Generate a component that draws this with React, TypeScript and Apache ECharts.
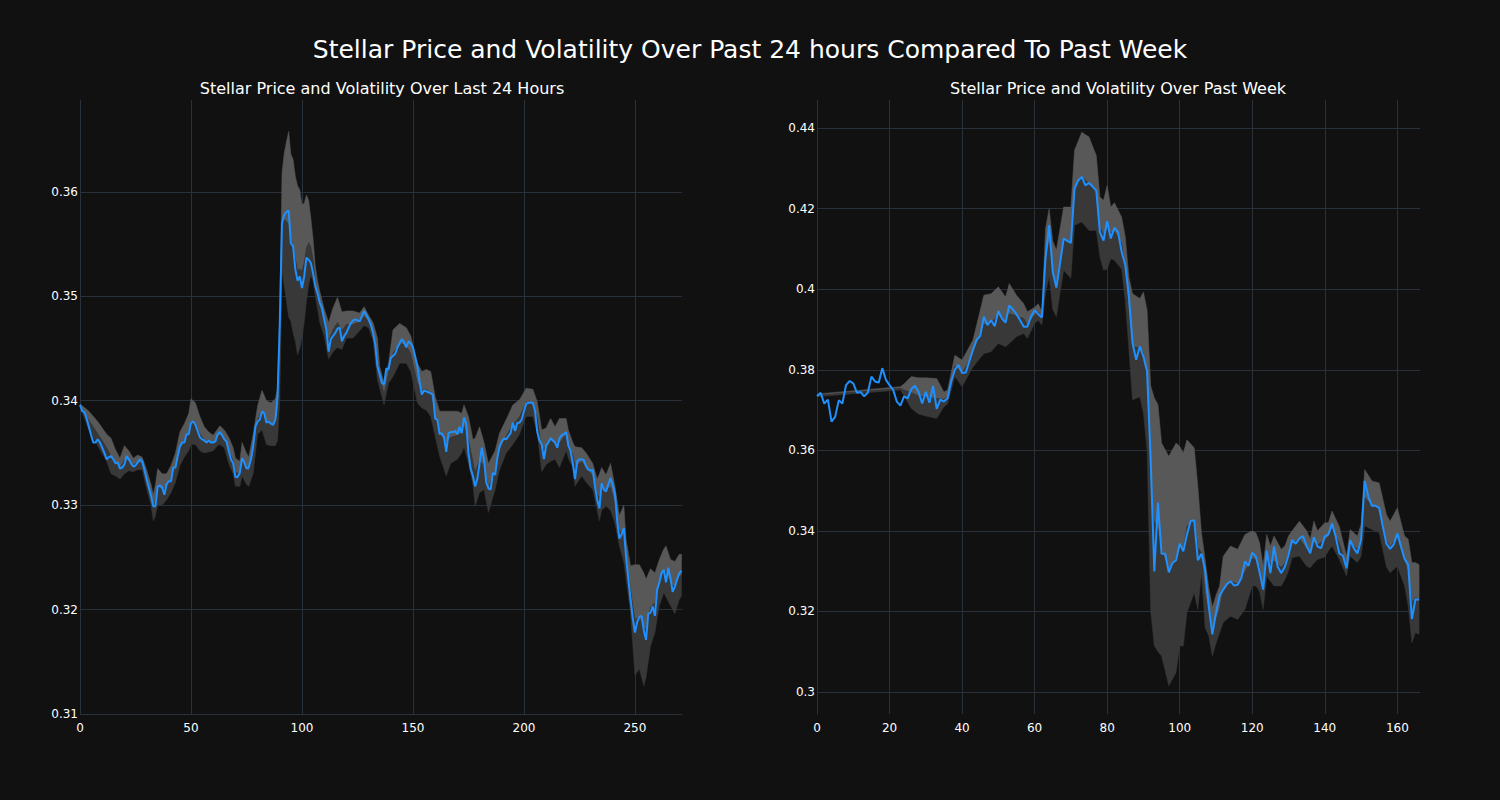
import React, { useEffect, useRef } from "react";
import * as echarts from "echarts";

// ---------- Last 24 hours ----------
const dayPrice = [
  0.3396, 0.3390, 0.3389, 0.3383, 0.3375, 0.3367, 0.3360, 0.3360, 0.3363, 0.3360,
  0.3355, 0.3350, 0.3344, 0.3346, 0.3347, 0.3344, 0.3340, 0.3341, 0.3335, 0.3336,
  0.3339, 0.3347, 0.3344, 0.3340, 0.3337, 0.3338, 0.3341, 0.3344, 0.3342, 0.3334,
  0.3325, 0.3317, 0.3309, 0.3299, 0.3299, 0.3318, 0.3319, 0.3317, 0.3310, 0.3320,
  0.3323, 0.3323, 0.3336, 0.3336, 0.3347, 0.3356, 0.3360, 0.3360, 0.3368, 0.3368,
  0.3379, 0.3380, 0.3377, 0.3371, 0.3365, 0.3363, 0.3362, 0.3360, 0.3362, 0.3360,
  0.3360, 0.3361, 0.3368, 0.3370, 0.3367, 0.3363, 0.3361, 0.3352, 0.3344, 0.3340,
  0.3327, 0.3327, 0.3331, 0.3345, 0.3341, 0.3335, 0.3336, 0.3344, 0.3356, 0.3375,
  0.3380, 0.3382, 0.3390, 0.3388, 0.3379, 0.3380, 0.3378, 0.3377, 0.3382, 0.3404,
  0.3474, 0.3570, 0.3578, 0.3581, 0.3582, 0.3551, 0.3548, 0.3526, 0.3515, 0.3519,
  0.3508, 0.3519, 0.3537, 0.3535, 0.3532, 0.3522, 0.3510, 0.3503, 0.3494, 0.3489,
  0.3478, 0.3468, 0.3447, 0.3459, 0.3462, 0.3465, 0.3469, 0.3470, 0.3457, 0.3462,
  0.3465, 0.3470, 0.3474, 0.3477, 0.3478, 0.3477, 0.3476, 0.3481, 0.3486, 0.3482,
  0.3478, 0.3473, 0.3465, 0.3454, 0.3433, 0.3425, 0.3417, 0.3416, 0.3431, 0.3430,
  0.3441, 0.3443, 0.3445, 0.3451, 0.3455, 0.3459, 0.3456, 0.3451, 0.3457, 0.3455,
  0.3451, 0.3442, 0.3433, 0.3418, 0.3406, 0.3410, 0.3409, 0.3408, 0.3407, 0.3406,
  0.3383, 0.3382, 0.3368, 0.3369, 0.3365, 0.3351, 0.3369, 0.3370, 0.3370, 0.3371,
  0.3368, 0.3375, 0.3369, 0.3384, 0.3378, 0.3350, 0.3335, 0.3328, 0.3318, 0.3325,
  0.3340, 0.3355, 0.3344, 0.3322, 0.3316, 0.3315, 0.3331, 0.3329, 0.3345, 0.3356,
  0.3361, 0.3364, 0.3363, 0.3366, 0.3369, 0.3379, 0.3371, 0.3379, 0.3379, 0.3382,
  0.3390, 0.3397, 0.3398, 0.3398, 0.3398, 0.3390, 0.3370, 0.3362, 0.3358, 0.3344,
  0.3357, 0.3360, 0.3364, 0.3362, 0.3360, 0.3355, 0.3364, 0.3367, 0.3368, 0.3370,
  0.3357, 0.3352, 0.3340, 0.3325, 0.3342, 0.3344, 0.3344, 0.3343, 0.3337, 0.3334,
  0.3333, 0.3334, 0.3318, 0.3305, 0.3297, 0.3321, 0.3315, 0.3313, 0.3320, 0.3326,
  0.3319, 0.3311, 0.3285, 0.3268, 0.3272, 0.3278, 0.3250, 0.3230, 0.3210, 0.3192,
  0.3178, 0.3188, 0.3193, 0.3194, 0.3180, 0.3171, 0.3196, 0.3197, 0.3203, 0.3194,
  0.3219, 0.3226, 0.3235, 0.3238, 0.3226, 0.3240, 0.3230, 0.3217, 0.3222, 0.3229,
  0.3235, 0.3237,
];

const dayBandX = [
  0, 4, 8, 12, 14, 16, 18, 20, 22, 24, 26, 28, 30, 32, 33, 34, 35, 37, 39, 41,
  43, 45, 47, 49, 50, 52, 54, 56, 58, 60, 62, 63, 65, 67, 69, 70, 72, 73, 75, 76,
  78, 80, 82, 84, 86, 88, 89, 90, 91, 92, 93, 94, 95, 96, 97, 98, 99, 100, 101, 102,
  103, 104, 105, 106, 107, 108, 110, 112, 114, 116, 118, 120, 123, 126, 128, 130, 132, 134, 135, 137,
  139, 141, 144, 147, 149, 152, 154, 156, 158, 160, 162, 165, 167, 170, 172, 173, 175, 177, 178, 180,
  182, 184, 187, 189, 192, 195, 198, 201, 204, 206, 208, 210, 212, 214, 216, 219, 220, 222, 223, 226,
  228, 231, 233, 234, 235, 237, 239, 241, 243, 245, 246, 248, 250, 252, 254, 255, 257, 259, 261, 263,
  264, 266, 268, 270, 271,
];
const dayBandUpper = [
  0.3397, 0.3390, 0.3380, 0.3368, 0.3364, 0.3353, 0.3345, 0.3357, 0.3352, 0.3345, 0.3348, 0.3346, 0.3334, 0.3320, 0.3310, 0.3320, 0.3335, 0.3330, 0.3330, 0.3338,
  0.3350, 0.3370, 0.3378, 0.3388, 0.3402, 0.3398, 0.3385, 0.3375, 0.3370, 0.3367, 0.3373, 0.3376, 0.3372, 0.3365, 0.3355, 0.3345, 0.3342, 0.3360, 0.3350, 0.3346,
  0.3368, 0.3395, 0.3410, 0.3400, 0.3398, 0.3402, 0.3412, 0.3480, 0.3618, 0.3637, 0.3648, 0.3658, 0.3636, 0.3631, 0.3615, 0.3606, 0.3602, 0.3588, 0.3589, 0.3597,
  0.3592, 0.3575, 0.3555, 0.3529, 0.3515, 0.3505, 0.3488, 0.3475, 0.3489, 0.3499, 0.3485, 0.3486, 0.3486, 0.3484, 0.3490, 0.3482, 0.3475, 0.3460, 0.3433, 0.3417,
  0.3436, 0.3468, 0.3474, 0.3470, 0.3462, 0.3436, 0.3428, 0.3430, 0.3428, 0.3404, 0.3390, 0.3390, 0.3390, 0.3390, 0.3388, 0.3396, 0.3385, 0.3363, 0.3364, 0.3375,
  0.3360, 0.3340, 0.3352, 0.3369, 0.3382, 0.3396, 0.3401, 0.3412, 0.3411, 0.3399, 0.3372, 0.3374, 0.3383, 0.3375, 0.3383, 0.3383, 0.3372, 0.3360, 0.3356, 0.3355,
  0.3350, 0.3340, 0.3325, 0.3330, 0.3336, 0.3329, 0.3340, 0.3318, 0.3290, 0.3300, 0.3267, 0.3242, 0.3243, 0.3243, 0.3235, 0.3229, 0.3239, 0.3235, 0.3248, 0.3258,
  0.3261, 0.3248, 0.3246, 0.3253, 0.3253,
];
const dayBandLower = [
  0.3394, 0.3372, 0.3357, 0.3342, 0.3330, 0.3328, 0.3325, 0.3330, 0.3333, 0.3332, 0.3334, 0.3334, 0.3316, 0.3300, 0.3285, 0.3290, 0.3300, 0.3300, 0.3305, 0.3312,
  0.3322, 0.3338, 0.3346, 0.3352, 0.3358, 0.3358, 0.3352, 0.3350, 0.3351, 0.3352, 0.3357, 0.3358, 0.3355, 0.3340, 0.3330, 0.3318, 0.3318, 0.3328, 0.3320, 0.3318,
  0.3330, 0.3368, 0.3372, 0.3358, 0.3357, 0.3357, 0.3362, 0.3400, 0.3525, 0.3510, 0.3495, 0.3480, 0.3476, 0.3465, 0.3457, 0.3444, 0.3450, 0.3460, 0.3475, 0.3495,
  0.3511, 0.3520, 0.3515, 0.3500, 0.3488, 0.3475, 0.3462, 0.3440, 0.3447, 0.3451, 0.3449, 0.3460, 0.3460, 0.3467, 0.3472, 0.3470, 0.3458, 0.3420, 0.3412, 0.3396,
  0.3417, 0.3423, 0.3436, 0.3436, 0.3428, 0.3398, 0.3393, 0.3391, 0.3385, 0.3366, 0.3347, 0.3328, 0.3340, 0.3344, 0.3350, 0.3356, 0.3340, 0.3320, 0.3299, 0.3312,
  0.3315, 0.3293, 0.3315, 0.3334, 0.3350, 0.3358, 0.3368, 0.3385, 0.3385, 0.3369, 0.3332, 0.3339, 0.3342, 0.3344, 0.3336, 0.3352, 0.3345, 0.3336, 0.3318, 0.3328,
  0.3322, 0.3315, 0.3295, 0.3285, 0.3295, 0.3299, 0.3295, 0.3283, 0.3261, 0.3245, 0.3230, 0.3197, 0.3137, 0.3143, 0.3127, 0.3135, 0.3165, 0.3178, 0.3204, 0.3216,
  0.3212, 0.3204, 0.3196, 0.3210, 0.3213,
];

// ---------- Past week ----------
const weekPrice = [
  0.3734, 0.3743, 0.3716, 0.3726, 0.3671, 0.3683, 0.3724, 0.3716, 0.3762, 0.3772,
  0.3766, 0.3743, 0.3745, 0.3734, 0.3743, 0.3783, 0.3771, 0.3768, 0.3804, 0.3775,
  0.3762, 0.3750, 0.3721, 0.3711, 0.3734, 0.3729, 0.3752, 0.3760, 0.3745, 0.3716,
  0.3745, 0.3718, 0.3760, 0.3703, 0.3726, 0.3721, 0.3729, 0.3771, 0.3800, 0.3812,
  0.3792, 0.3793, 0.3821, 0.3849, 0.3874, 0.3884, 0.3932, 0.3911, 0.3923, 0.3908,
  0.3946, 0.3927, 0.3917, 0.3960, 0.3950, 0.3938, 0.3923, 0.3907, 0.3907, 0.3932,
  0.3948, 0.3938, 0.3930, 0.4076, 0.4159, 0.4043, 0.4004, 0.4064, 0.4126, 0.4120,
  0.4115, 0.4250, 0.4270, 0.4279, 0.4258, 0.4264, 0.4255, 0.4245, 0.4142, 0.4121,
  0.4169, 0.4126, 0.4153, 0.4142, 0.4093, 0.4060, 0.3981, 0.3866, 0.3825, 0.3858,
  0.3833, 0.3796, 0.3576, 0.3299, 0.3470, 0.3343, 0.3343, 0.3297, 0.3320, 0.3327,
  0.3368, 0.3349, 0.3391, 0.3424, 0.3426, 0.3327, 0.3343, 0.3303, 0.3213, 0.3143,
  0.3196, 0.3239, 0.3254, 0.3267, 0.3275, 0.3264, 0.3266, 0.3283, 0.3324, 0.3313,
  0.3346, 0.3336, 0.3299, 0.3254, 0.3351, 0.3295, 0.3361, 0.3311, 0.3295, 0.3311,
  0.3340, 0.3377, 0.3368, 0.3381, 0.3387, 0.3362, 0.3344, 0.3384, 0.3361, 0.3357,
  0.3386, 0.3391, 0.3418, 0.3386, 0.3344, 0.3338, 0.3307, 0.3377, 0.3357, 0.3344,
  0.3377, 0.3524, 0.3485, 0.3462, 0.3462, 0.3457, 0.3411, 0.3368, 0.3355, 0.3366,
  0.3393, 0.3361, 0.3330, 0.3316, 0.3181, 0.3230, 0.3229,
];

const weekBandX = [
  0, 23, 24, 26, 28, 30, 33, 35, 36, 38, 40, 43, 46, 48, 50, 52, 53, 55, 57, 58,
  60, 61, 62, 63, 64, 65, 66, 67, 68, 70, 71, 73, 75, 77, 78, 79, 80, 81, 82, 84,
  85, 86, 87, 89, 90, 91, 92, 93, 94, 95, 97, 99, 100, 101, 102, 104, 105, 106, 107, 108,
  109, 110, 111, 112, 114, 116, 118, 120, 121, 122, 123, 124, 125, 126, 128, 129, 130, 131, 133, 135,
  136, 137, 138, 140, 141, 142, 144, 146, 147, 149, 150, 151, 153, 155, 157, 158, 160, 162, 163, 164,
  165, 166,
];
const weekBandUpper = [
  0.3740, 0.3758, 0.3765, 0.3783, 0.3780, 0.3780, 0.3778, 0.3745, 0.3750, 0.3836, 0.3824, 0.3874, 0.3985, 0.3989, 0.4006, 0.3981, 0.4014, 0.3985, 0.3964, 0.3944,
  0.3955, 0.3964, 0.3944, 0.4150, 0.4200, 0.4120, 0.4097, 0.4150, 0.4204, 0.4204, 0.4345, 0.4390, 0.4378, 0.4332, 0.4229, 0.4221, 0.4258, 0.4204, 0.4215, 0.4179,
  0.4130, 0.4030, 0.3989, 0.3977, 0.3993, 0.3948, 0.3760, 0.3730, 0.3714, 0.3618, 0.3585, 0.3618, 0.3610, 0.3593, 0.3626, 0.3606, 0.3511, 0.3395, 0.3330, 0.3260,
  0.3210, 0.3240, 0.3263, 0.3337, 0.3362, 0.3354, 0.3391, 0.3400, 0.3395, 0.3371, 0.3313, 0.3391, 0.3362, 0.3387, 0.3354, 0.3362, 0.3387, 0.3400, 0.3424, 0.3400,
  0.3379, 0.3424, 0.3400, 0.3420, 0.3420, 0.3449, 0.3411, 0.3337, 0.3403, 0.3387, 0.3416, 0.3552, 0.3524, 0.3519, 0.3440, 0.3424, 0.3457, 0.3387, 0.3379, 0.3321,
  0.3321, 0.3316,
];
const weekBandLower = [
  0.3733, 0.3750, 0.3735, 0.3704, 0.3690, 0.3685, 0.3679, 0.3708, 0.3715, 0.3783, 0.3758, 0.3807, 0.3840, 0.3845, 0.3865, 0.3857, 0.3865, 0.3882, 0.3890, 0.3878,
  0.3915, 0.3923, 0.3911, 0.3990, 0.4031, 0.3950, 0.3931, 0.3990, 0.4047, 0.4027, 0.4159, 0.4167, 0.4146, 0.4146, 0.4080, 0.4047, 0.4050, 0.4076, 0.4072, 0.4050,
  0.3970, 0.3850, 0.3725, 0.3733, 0.3692, 0.3600, 0.3200, 0.3114, 0.3100, 0.3089, 0.3015, 0.3048, 0.3114, 0.3114, 0.3197, 0.3246, 0.3205, 0.3296, 0.3160, 0.3140,
  0.3089, 0.3120, 0.3147, 0.3172, 0.3188, 0.3180, 0.3205, 0.3263, 0.3263, 0.3250, 0.3205, 0.3287, 0.3275, 0.3263, 0.3263, 0.3279, 0.3300, 0.3333, 0.3337, 0.3312,
  0.3308, 0.3320, 0.3329, 0.3335, 0.3350, 0.3362, 0.3329, 0.3288, 0.3337, 0.3321, 0.3337, 0.3412, 0.3403, 0.3395, 0.3310, 0.3296, 0.3312, 0.3263, 0.3213, 0.3122,
  0.3147, 0.3143,
];

const MAIN_TITLE = "Stellar Price and Volatility Over Past 24 hours Compared To Past Week";
const DAY_TITLE = "Stellar Price and Volatility Over Last 24 Hours";
const WEEK_TITLE = "Stellar Price and Volatility Over Past Week";

const FONT = "DejaVu Sans";
const GRID_COLOR = "#29313b";
const LIGHT_BAND = "#585858";
const DARK_BAND = "#383838";
const LINE_COLOR = "#1e90ff";

function bandSeries(idx: number, xs: number[], up: number[], lo: number[]) {
  return {
    type: "custom",
    xAxisIndex: idx,
    yAxisIndex: idx,
    silent: true,
    clip: true,
    z: 1,
    data: [[xs[0], up[0]]],
    renderItem: (_params: any, api: any) => {
      const upPts = xs.map((x, i) => api.coord([x, up[i]]));
      const midPts = xs.map((x, i) => api.coord([x, (up[i] + lo[i]) / 2]));
      const loPts = xs.map((x, i) => api.coord([x, lo[i]]));
      return {
        type: "group",
        children: [
          {
            type: "polygon",
            shape: { points: [...upPts, ...midPts.slice().reverse()] },
            style: { fill: LIGHT_BAND, stroke: LIGHT_BAND, lineWidth: 0.5 },
          },
          {
            type: "polygon",
            shape: { points: [...midPts, ...loPts.slice().reverse()] },
            style: { fill: DARK_BAND, stroke: DARK_BAND, lineWidth: 0.5 },
          },
        ],
      };
    },
  };
}

function priceSeries(idx: number, values: number[]) {
  return {
    type: "line",
    xAxisIndex: idx,
    yAxisIndex: idx,
    data: values.map((v, i) => [i, v]),
    showSymbol: false,
    symbol: "none",
    z: 3,
    lineStyle: { color: LINE_COLOR, width: 2 },
  };
}

const axisLabelBase = { color: "#ffffff", fontSize: 12, fontFamily: FONT };

export default function App() {
  const ref = useRef<HTMLDivElement>(null);
  useEffect(() => {
    if (!ref.current) return;
    const chart = echarts.init(ref.current, undefined, { renderer: "svg" });
    chart.setOption({
      animation: false,
      backgroundColor: "#111111",
      textStyle: { fontFamily: FONT },
      title: [
        {
          text: MAIN_TITLE,
          left: 750,
          top: 37,
          textAlign: "center",
          padding: 0,
          textStyle: { color: "#ffffff", fontSize: 25, fontWeight: "normal", fontFamily: FONT },
        },
        {
          text: DAY_TITLE,
          left: 382,
          top: 80,
          textAlign: "center",
          padding: 0,
          textStyle: { color: "#ffffff", fontSize: 16, fontWeight: "normal", fontFamily: FONT },
        },
        {
          text: WEEK_TITLE,
          left: 1118,
          top: 80,
          textAlign: "center",
          padding: 0,
          textStyle: { color: "#ffffff", fontSize: 16, fontWeight: "normal", fontFamily: FONT },
        },
      ],
      grid: [
        { left: 80, right: 818, top: 100, bottom: 86, containLabel: false },
        { left: 817, right: 80, top: 100, bottom: 86, containLabel: false },
      ],
      xAxis: [
        {
          type: "value",
          gridIndex: 0,
          min: 0,
          max: 271.2,
          interval: 50,
          axisLine: { show: false },
          axisTick: { show: false },
          axisLabel: { ...axisLabelBase, margin: 8, showMaxLabel: false },
          splitLine: { show: true, showMaxLine: false, lineStyle: { color: GRID_COLOR, width: 1 } },
        },
        {
          type: "value",
          gridIndex: 1,
          min: 0,
          max: 166.25,
          interval: 20,
          axisLine: { show: false },
          axisTick: { show: false },
          axisLabel: { ...axisLabelBase, margin: 8, showMaxLabel: false },
          splitLine: { show: true, showMaxLine: false, lineStyle: { color: GRID_COLOR, width: 1 } },
        },
      ],
      yAxis: [
        {
          type: "value",
          gridIndex: 0,
          min: 0.31,
          max: 0.3688,
          interval: 0.01,
          axisLine: { show: true, lineStyle: { color: GRID_COLOR, width: 1 } },
          axisTick: { show: false },
          axisLabel: { ...axisLabelBase, margin: 2, showMaxLabel: false },
          splitLine: { show: true, showMaxLine: false, lineStyle: { color: GRID_COLOR, width: 1 } },
        },
        {
          type: "value",
          gridIndex: 1,
          min: 0.2945,
          max: 0.447,
          splitNumber: 8,
          axisLine: { show: true, lineStyle: { color: GRID_COLOR, width: 1 } },
          axisTick: { show: false },
          axisLabel: { ...axisLabelBase, margin: 2, showMaxLabel: false, showMinLabel: false },
          splitLine: {
            show: true,
            showMaxLine: false,
            showMinLine: false,
            lineStyle: { color: GRID_COLOR, width: 1 },
          },
        },
      ],
      series: [
        bandSeries(0, dayBandX, dayBandUpper, dayBandLower),
        priceSeries(0, dayPrice),
        bandSeries(1, weekBandX, weekBandUpper, weekBandLower),
        priceSeries(1, weekPrice),
      ],
    });
    return () => chart.dispose();
  }, []);
  return (
    <div
      ref={ref}
      style={{ position: "fixed", left: 0, top: 0, width: 1500, height: 800, background: "#111111" }}
    />
  );
}
